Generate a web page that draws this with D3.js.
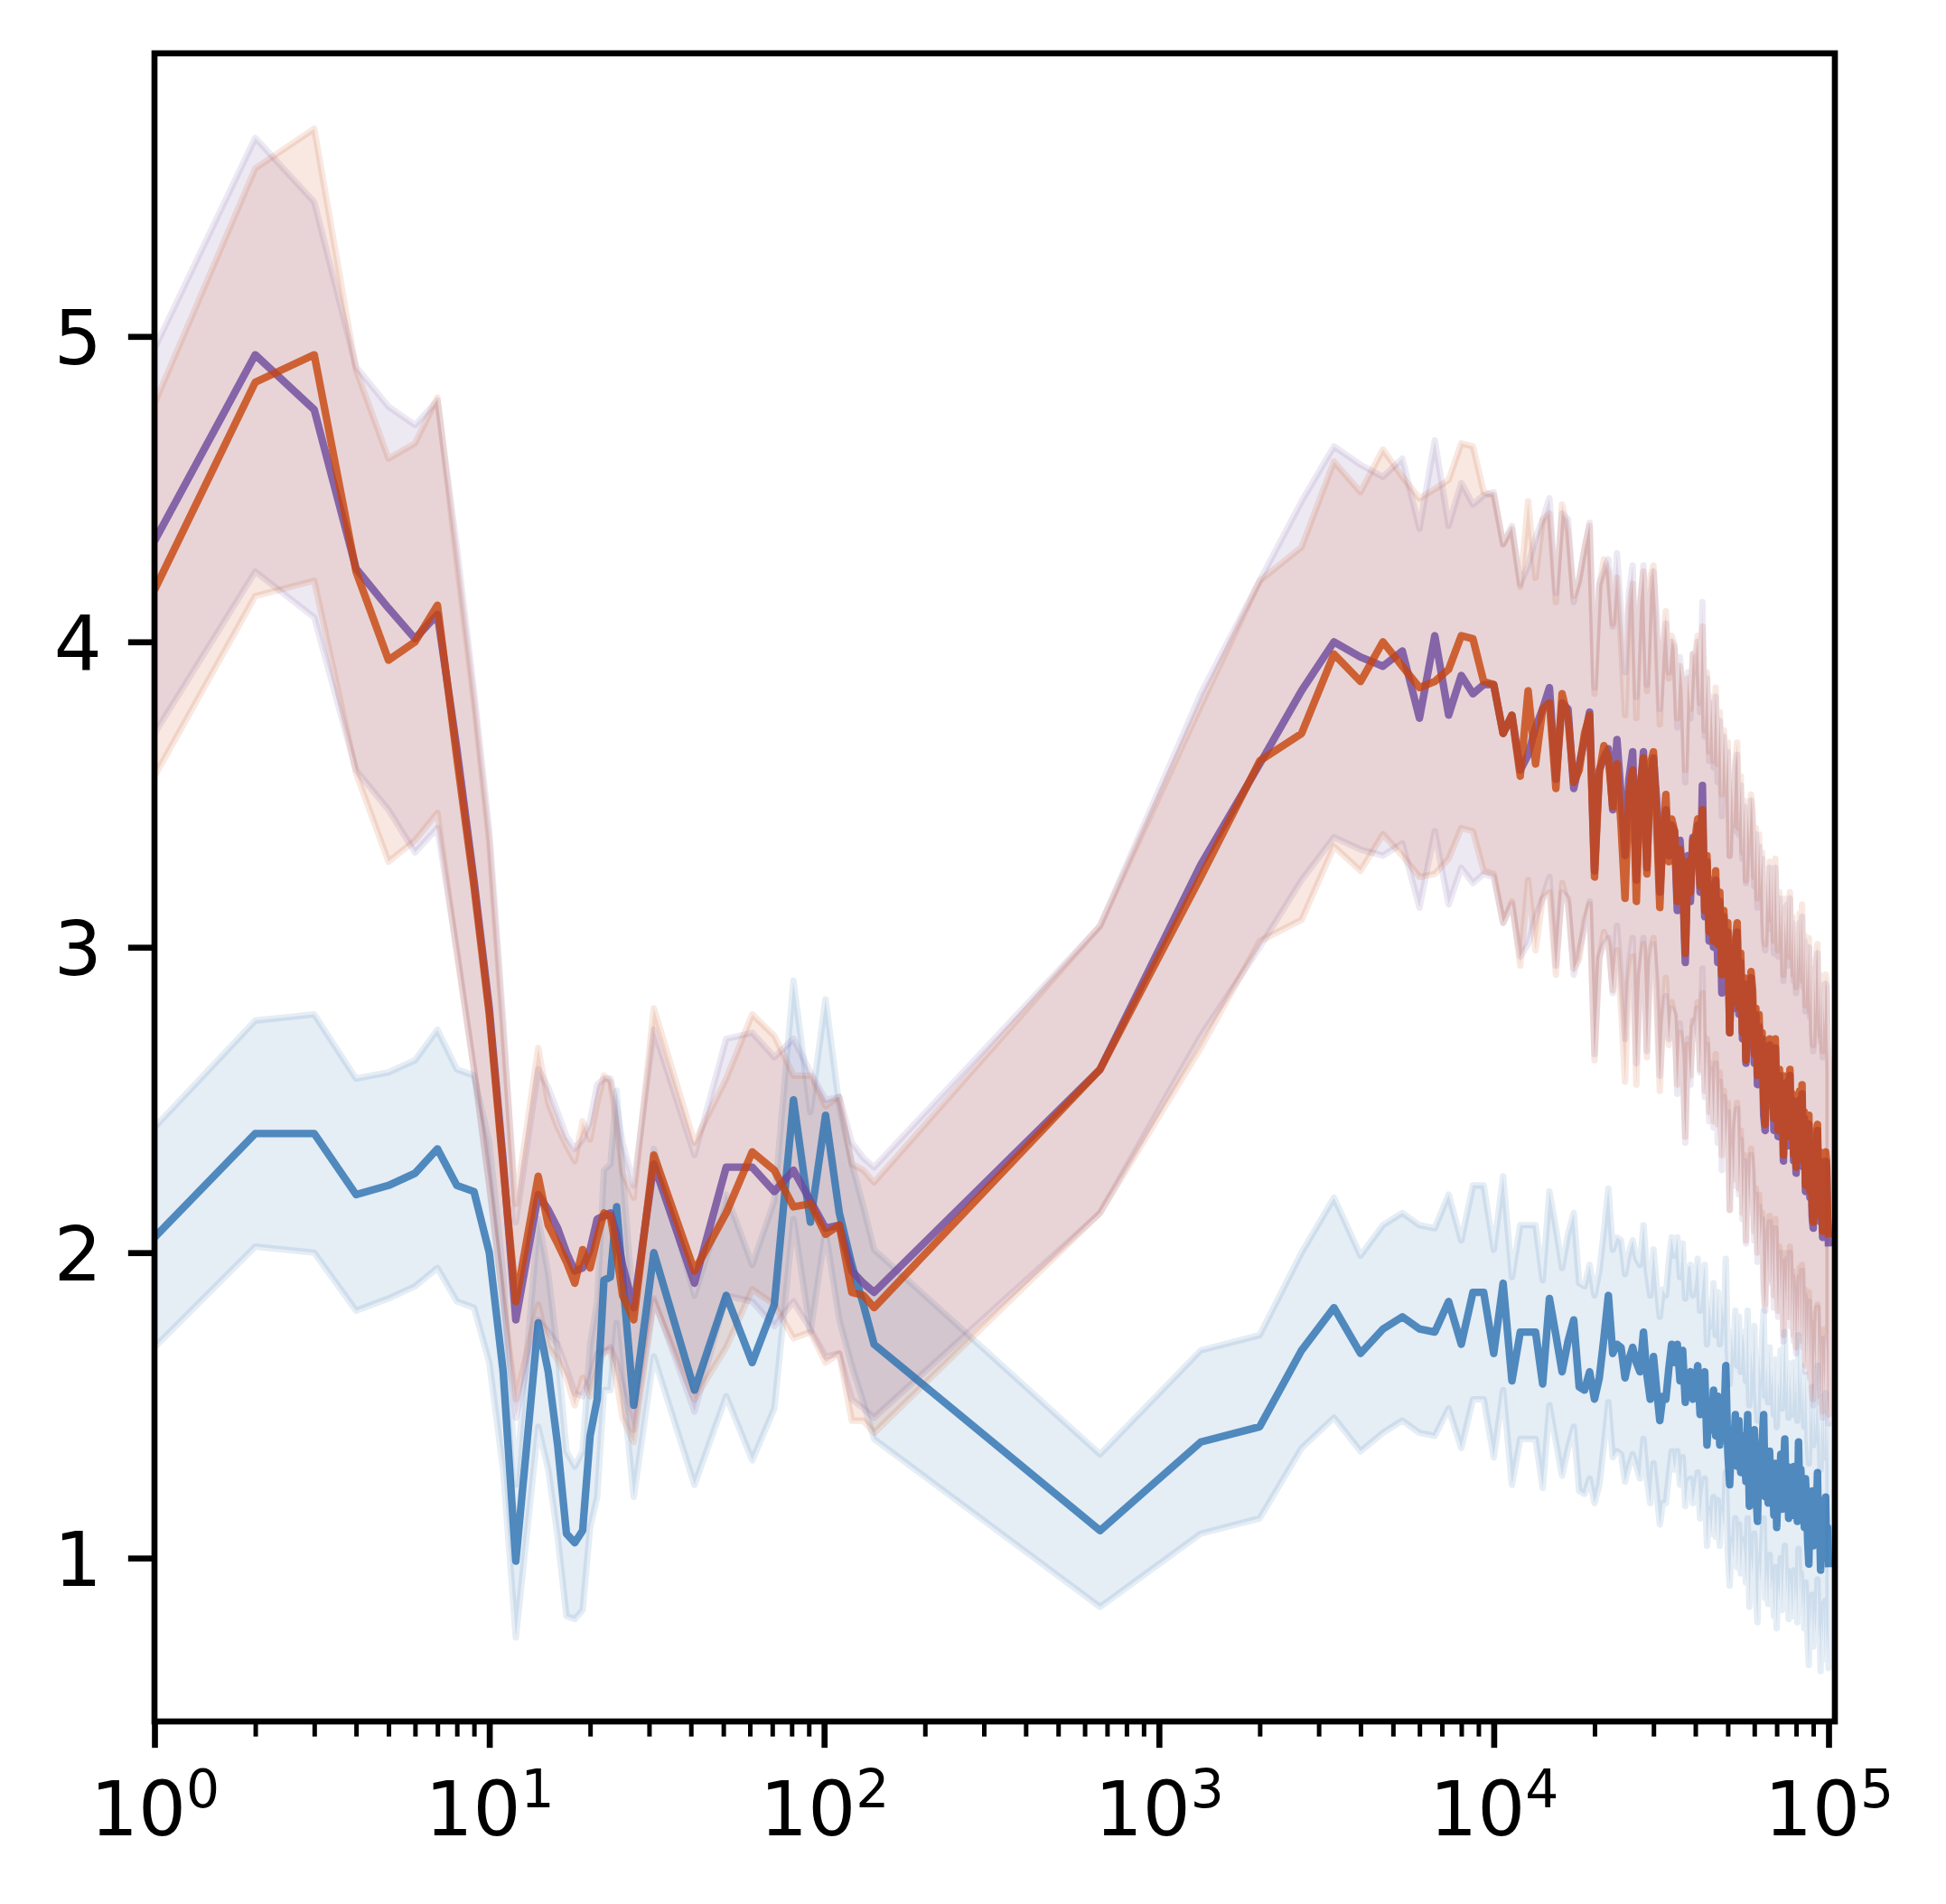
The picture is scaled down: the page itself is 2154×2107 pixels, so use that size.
<!DOCTYPE html>
<html><head><meta charset="utf-8">
<script src="https://cdn.jsdelivr.net/npm/d3@7"></script>
<style>body{margin:0;background:#fff} svg{display:block}</style>
</head><body>
<svg id="chart" width="2154" height="2107"></svg>
<script>
// ---------------- data ----------------
const xLow = [1,2,3,4,5,6,7,8,9,10,11,12,14,15,16,17,18,19,20,21,22,23,24,25,27,31,41,51,61,71,81,91,101,111,121,131,141];
const xHigh = [667,1333,2000,2667,3333,4000,4667,5333,6000,6667,7333,8000,8667,9333,10000,10667,11333,12000,12667,13333,
14000,14667,15333,16000,16667,17333,18000,18667,19333,20000,20667,21333,22000,22667,23333,24000,24667,25333,26000,26667,
27333,28000,28667,29333,30000,30667,31333,32000,32667,33333,34000,34667,35333,36000,36667,37333,38000,38667,39333,40000,
40667,41333,42000,42667,43333,44000,44667,45333,46000,46667,47333,48000,48667,49333,50000,50667,51333,52000,52667,53333,
54000,54667,55333,56000,56667,57333,58000,58667,59333,60000,60667,61333,62000,62667,63333,64000,64667,65333,66000,66667,
67333,68000,68667,69333,70000,70667,71333,72000,72667,73333,74000,74667,75333,76000,76667,77333,78000,78667,79333,80000,
80667,81333,82000,82667,83333,84000,84667,85333,86000,86667,87333,88000,88667,89333,90000,90667,91333,92000,92667,93333,
94000,94667,95333,96000,96667,97333,98000,98667,99333,100000];

const blueMeanLow = [2.05,2.39,2.39,2.19,2.22,2.26,2.34,2.22,2.20,2.00,1.61,0.99,1.77,1.61,1.37,1.08,1.05,1.09,1.40,1.52,1.91,1.92,2.15,1.92,1.50,2.00,1.55,1.86,1.64,1.83,2.50,2.10,2.45,2.13,1.96,1.83,1.70];
const blueHwLow = [0.36,0.37,0.39,0.38,0.37,0.37,0.39,0.38,0.38,0.36,0.32,0.25,0.34,0.32,0.30,0.27,0.25,0.26,0.30,0.32,0.36,0.37,0.38,0.35,0.30,0.34,0.31,0.33,0.32,0.34,0.39,0.36,0.38,0.35,0.33,0.32,0.31];
const purpleMeanLow = [4.33,4.94,4.76,4.24,4.11,4.01,4.09,3.65,3.22,2.80,2.30,1.78,2.19,2.14,2.08,2.00,1.94,1.95,2.01,2.11,2.12,2.13,2.06,1.96,1.82,2.29,1.90,2.28,2.28,2.20,2.27,2.17,2.08,2.09,1.94,1.90,1.87];
const purpleHwLow = [0.63,0.71,0.68,0.66,0.66,0.70,0.70,0.66,0.62,0.58,0.46,0.32,0.41,0.40,0.38,0.38,0.40,0.42,0.42,0.44,0.45,0.44,0.42,0.40,0.40,0.44,0.42,0.42,0.44,0.44,0.43,0.42,0.42,0.42,0.42,0.41,0.41];
const orangeMeanLow = [4.17,4.85,4.94,4.23,3.94,4.00,4.12,3.62,3.20,2.78,2.28,1.84,2.25,2.09,2.03,1.97,1.90,2.01,1.95,2.05,2.13,2.12,2.00,1.86,1.78,2.32,1.94,2.13,2.33,2.27,2.15,2.16,2.06,2.09,1.87,1.86,1.82];
const orangeHwLow = [0.61,0.70,0.74,0.66,0.66,0.65,0.68,0.64,0.60,0.56,0.44,0.32,0.42,0.40,0.38,0.38,0.40,0.42,0.42,0.44,0.45,0.44,0.42,0.40,0.40,0.48,0.42,0.44,0.45,0.44,0.43,0.42,0.42,0.42,0.42,0.41,0.41];

const blueMeanHigh = [1.09,1.38,1.43,1.68,1.82,1.67,1.75,1.79,1.75,1.74,
1.84,1.70,1.87,1.87,1.67,1.90,1.58,1.74,1.74,1.74,
1.57,1.85,1.73,1.61,1.71,1.78,1.56,1.55,1.61,1.52,
1.59,1.72,1.86,1.67,1.70,1.69,1.59,1.65,1.69,1.64,
1.61,1.74,1.60,1.52,1.66,1.55,1.45,1.53,1.52,1.62,
1.70,1.64,1.70,1.58,1.68,1.51,1.60,1.61,1.52,1.57,
1.63,1.47,1.55,1.61,1.37,1.50,1.42,1.55,1.40,1.53,
1.37,1.50,1.44,1.63,1.35,1.24,1.40,1.33,1.47,1.30,
1.45,1.28,1.40,1.36,1.25,1.47,1.17,1.35,1.27,1.42,
1.22,1.12,1.33,1.25,1.38,1.47,1.20,1.30,1.18,1.35,
1.22,1.28,1.14,1.31,1.10,1.25,1.19,1.34,1.16,1.28,
1.39,1.20,1.30,1.13,1.27,1.21,1.14,1.30,1.18,1.26,
1.12,1.38,1.20,1.29,1.15,1.24,1.10,1.26,1.17,1.05,
0.98,1.20,1.10,1.22,1.04,1.18,1.08,1.15,1.28,1.06,
1.12,0.96,1.14,1.05,1.19,1.00,1.20,1.02,1.10,0.97];
const blueHwHigh = [0.25,0.30,0.30,0.32,0.36,0.32,0.34,0.34,0.34,0.34,
0.35,0.34,0.35,0.35,0.34,0.35,0.34,0.35,0.35,0.35,
0.34,0.35,0.35,0.34,0.35,0.35,0.34,0.34,0.35,0.34,
0.35,0.35,0.35,0.34,0.35,0.35,0.34,0.35,0.35,0.34,
0.35,0.35,0.34,0.34,0.35,0.34,0.34,0.35,0.34,0.35,
0.35,0.35,0.35,0.34,0.35,0.34,0.35,0.35,0.34,0.34,
0.35,0.34,0.34,0.35,0.33,0.34,0.34,0.35,0.33,0.34,
0.33,0.34,0.34,0.35,0.33,0.33,0.34,0.33,0.34,0.33,
0.34,0.33,0.34,0.34,0.33,0.34,0.33,0.34,0.33,0.34,
0.33,0.33,0.34,0.33,0.34,0.34,0.33,0.34,0.33,0.34,
0.33,0.34,0.33,0.34,0.33,0.34,0.33,0.34,0.33,0.34,
0.35,0.33,0.34,0.33,0.34,0.33,0.33,0.34,0.33,0.34,
0.33,0.35,0.33,0.34,0.33,0.34,0.33,0.34,0.33,0.33,
0.33,0.34,0.33,0.34,0.33,0.34,0.33,0.34,0.35,0.33,
0.34,0.33,0.34,0.33,0.34,0.33,0.34,0.33,0.34,0.33];

const purpleMeanHigh = [2.60,3.27,3.60,3.84,4.00,3.95,3.92,3.97,3.75,4.02,
3.76,3.89,3.83,3.86,3.86,3.70,3.76,3.58,3.63,3.72,
3.78,3.85,3.55,3.80,3.78,3.52,3.60,3.68,3.77,3.25,
3.58,3.62,3.65,3.45,3.68,3.50,3.30,3.55,3.64,3.22,
3.50,3.64,3.26,3.55,3.62,3.48,3.18,3.35,3.45,3.30,
3.40,3.38,3.12,3.35,3.22,2.95,3.30,3.15,3.36,3.30,
3.40,3.18,3.53,3.10,3.28,3.02,3.20,3.00,3.22,2.95,
3.15,2.85,3.10,2.92,3.05,2.72,2.95,2.80,3.00,3.05,
2.78,2.95,2.70,2.88,2.62,2.85,2.72,2.90,2.80,2.62,
2.78,2.55,2.74,2.60,2.70,2.45,2.40,2.62,2.50,2.68,
2.48,2.62,2.40,2.67,2.50,2.38,2.58,2.42,2.55,2.30,
2.50,2.40,2.56,2.35,2.58,2.36,2.50,2.30,2.46,2.26,
2.42,2.32,2.50,2.30,2.52,2.28,2.44,2.20,2.38,2.25,
2.42,2.18,2.35,2.12,2.08,2.30,2.18,2.36,2.40,2.15,
2.30,2.10,2.28,2.05,2.22,2.12,2.30,2.28,2.10,2.02];
const purpleHwHigh = [0.47,0.56,0.60,0.62,0.64,0.63,0.62,0.63,0.62,0.64,
0.62,0.63,0.62,0.62,0.63,0.62,0.62,0.61,0.62,0.62,
0.62,0.62,0.61,0.62,0.62,0.61,0.61,0.62,0.62,0.60,
0.61,0.61,0.62,0.60,0.61,0.60,0.60,0.61,0.61,0.60,
0.60,0.61,0.60,0.60,0.61,0.60,0.60,0.60,0.61,0.60,
0.60,0.60,0.60,0.60,0.60,0.59,0.60,0.60,0.60,0.60,
0.60,0.59,0.60,0.59,0.60,0.59,0.60,0.59,0.60,0.59,
0.59,0.58,0.59,0.58,0.59,0.58,0.59,0.58,0.59,0.58,
0.59,0.58,0.59,0.58,0.59,0.58,0.59,0.58,0.59,0.58,
0.59,0.58,0.59,0.58,0.59,0.58,0.59,0.58,0.59,0.58,
0.58,0.59,0.58,0.59,0.58,0.59,0.58,0.59,0.58,0.59,
0.58,0.59,0.58,0.59,0.58,0.59,0.58,0.59,0.58,0.59,
0.58,0.59,0.58,0.59,0.58,0.59,0.58,0.59,0.58,0.59,
0.58,0.59,0.58,0.59,0.58,0.59,0.58,0.59,0.58,0.59,
0.58,0.59,0.58,0.59,0.58,0.59,0.58,0.59,0.58,0.58];

const orangeMeanHigh = [2.60,3.23,3.61,3.70,3.96,3.87,4.00,3.92,3.85,3.87,
3.91,4.02,4.01,3.87,3.86,3.70,3.76,3.56,3.84,3.60,
3.78,3.80,3.52,3.83,3.75,3.54,3.58,3.70,3.76,3.23,
3.57,3.66,3.62,3.46,3.60,3.40,3.16,3.50,3.58,3.15,
3.52,3.62,3.24,3.60,3.64,3.40,3.13,3.38,3.50,3.28,
3.42,3.38,3.15,3.32,3.25,2.98,3.28,3.18,3.35,3.36,
3.42,3.20,3.45,3.12,3.30,3.05,3.22,3.02,3.25,3.01,
3.18,2.91,3.12,2.95,3.08,2.72,2.98,2.82,3.02,3.08,
2.80,2.98,2.72,2.90,2.63,2.88,2.75,2.92,2.86,2.65,
2.80,2.58,2.78,2.62,2.72,2.50,2.42,2.65,2.52,2.70,
2.50,2.66,2.44,2.70,2.52,2.40,2.60,2.45,2.58,2.32,
2.52,2.42,2.58,2.38,2.60,2.38,2.52,2.32,2.48,2.28,
2.45,2.35,2.53,2.33,2.55,2.30,2.46,2.22,2.40,2.28,
2.45,2.20,2.38,2.15,2.10,2.32,2.20,2.40,2.42,2.18,
2.33,2.12,2.30,2.07,2.25,2.15,2.33,2.30,2.12,2.05];
const orangeHwHigh = [0.47,0.56,0.59,0.61,0.63,0.62,0.63,0.62,0.62,0.63,
0.62,0.63,0.63,0.62,0.62,0.62,0.61,0.62,0.62,0.61,
0.62,0.62,0.61,0.62,0.61,0.61,0.62,0.61,0.62,0.60,
0.61,0.61,0.61,0.60,0.61,0.60,0.60,0.61,0.61,0.60,
0.61,0.61,0.60,0.61,0.61,0.60,0.60,0.61,0.60,0.60,
0.60,0.61,0.60,0.60,0.60,0.60,0.60,0.60,0.61,0.60,
0.60,0.60,0.60,0.59,0.60,0.59,0.60,0.59,0.60,0.59,
0.59,0.59,0.59,0.58,0.59,0.58,0.59,0.58,0.59,0.59,
0.59,0.58,0.59,0.58,0.59,0.58,0.59,0.58,0.59,0.58,
0.59,0.58,0.59,0.58,0.59,0.58,0.59,0.58,0.59,0.58,
0.59,0.59,0.58,0.59,0.58,0.59,0.58,0.59,0.58,0.59,
0.58,0.59,0.58,0.59,0.58,0.59,0.58,0.59,0.58,0.59,
0.58,0.59,0.58,0.59,0.59,0.59,0.58,0.59,0.58,0.59,
0.58,0.59,0.58,0.59,0.58,0.59,0.58,0.59,0.59,0.59,
0.58,0.59,0.58,0.59,0.58,0.59,0.58,0.59,0.58,0.58];

const yTickValues = [1,2,3,4,5];
const xTickExponents = [0,1,2,3,4,5];

// ---------------- layout ----------------
const L = 171, R = 2031, T = 59, B = 1905;
const PT = 600/72;                // 1 pt in px at 600 dpi
const svg = d3.select("#chart");

const x = d3.scaleLog().domain([1, 104445]).range([L, R]);
const y = d3.scaleLinear().domain([0.465, 5.927]).range([B, T]);

const xs = xLow.concat(xHigh);
function build(meanLow, meanHigh, hwLow, hwHigh){
  const m = meanLow.concat(meanHigh), h = hwLow.concat(hwHigh);
  return xs.map((xv,i)=>({x:xv, v:m[i], lo:m[i]-h[i], hi:m[i]+h[i]}));
}
const series = [
  {name:"blue",   color:"rgb(41,111,176)", data: build(blueMeanLow, blueMeanHigh, blueHwLow, blueHwHigh)},
  {name:"purple", color:"rgb(109,71,156)", data: build(purpleMeanLow, purpleMeanHigh, purpleHwLow, purpleHwHigh)},
  {name:"orange", color:"rgb(199,67,11)",  data: build(orangeMeanLow, orangeMeanHigh, orangeHwLow, orangeHwHigh)}
];

svg.append("defs").append("clipPath").attr("id","clip")
  .append("rect").attr("x",L).attr("y",T).attr("width",R-L).attr("height",B-T);

const plot = svg.append("g").attr("clip-path","url(#clip)");

const area = d3.area().x(d=>x(d.x)).y0(d=>y(d.lo)).y1(d=>y(d.hi));
const line = d3.line().x(d=>x(d.x)).y(d=>y(d.v));

// bands (below all lines)
series.forEach(s=>{
  plot.append("path").datum(s.data).attr("d", area)
    .attr("fill", s.color).attr("fill-opacity", 0.12)
    .attr("stroke", s.color).attr("stroke-opacity", 0.12)
    .attr("stroke-width", 0.85*PT).attr("stroke-linejoin","round");
});
// mean lines
series.forEach(s=>{
  plot.append("path").datum(s.data).attr("d", line)
    .attr("fill","none").attr("stroke", s.color).attr("stroke-opacity", 0.8)
    .attr("stroke-width", 1.0*PT).attr("stroke-linejoin","round").attr("stroke-linecap","butt");
});

// ---------------- axes ----------------
const font = "'DejaVu Sans', sans-serif";
const fs = 10*PT;

// y axis
const yAxis = d3.axisLeft(y).tickValues(yTickValues).tickSize(3.5*PT).tickPadding(29).tickFormat(d3.format("d"));
const gy = svg.append("g").attr("transform",`translate(${L},0)`).call(yAxis);
gy.select(".domain").remove();
gy.selectAll(".tick line").attr("stroke","#000").attr("stroke-width",0.8*PT);
gy.selectAll(".tick text").attr("font-family",font).attr("font-size",fs).attr("fill","#000").attr("dy","0.36em");

// x axis: minor ticks
const minorVals = [];
for(let e=0;e<=5;e++) for(let m=2;m<=9;m++){ const v=m*Math.pow(10,e); if(v<=x.domain()[1]) minorVals.push(v); }
const xMinor = d3.axisBottom(x).tickValues(minorVals).tickSize(2*PT).tickFormat("");
const gxm = svg.append("g").attr("transform",`translate(0,${B})`).call(xMinor);
gxm.select(".domain").remove();
gxm.selectAll(".tick line").attr("stroke","#000").attr("stroke-width",0.6*PT);

// x axis: major ticks
const majorVals = xTickExponents.map(e=>Math.pow(10,e));
const xMajor = d3.axisBottom(x).tickValues(majorVals).tickSize(3.5*PT).tickFormat("");
const gx = svg.append("g").attr("transform",`translate(0,${B})`).call(xMajor);
gx.select(".domain").remove();
gx.selectAll(".tick line").attr("stroke","#000").attr("stroke-width",0.8*PT);
gx.selectAll(".tick").each(function(d,i){
  const t = d3.select(this).append("text")
    .attr("y", 126).attr("text-anchor","middle")
    .attr("font-family",font).attr("font-size",fs).attr("fill","#000");
  t.append("tspan").text("10");
  t.append("tspan").attr("dy",-31).attr("font-size",fs*0.7).text(String(xTickExponents[i]));
});

// frame
svg.append("rect").attr("x",L).attr("y",T).attr("width",R-L).attr("height",B-T)
  .attr("fill","none").attr("stroke","#000").attr("stroke-width",0.8*PT);
</script>
</body></html>
